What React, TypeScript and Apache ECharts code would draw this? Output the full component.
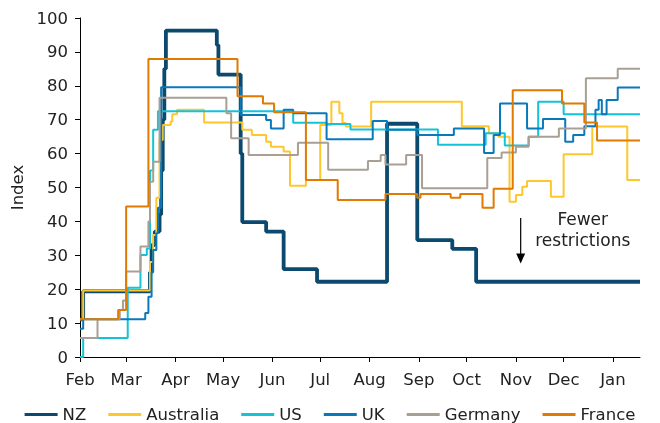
import React, { useEffect, useRef } from "react";
import * as echarts from "echarts";

// ---- Data ----
const monthNames = ["Jan", "Feb", "Mar", "Apr", "May", "Jun", "Jul", "Aug", "Sep", "Oct", "Nov", "Dec"];
const xStart = "2020-02-01";
const xEnd = "2021-01-18";
const yMin = 0;
const yMax = 100;
const yInterval = 10;

const countries = ["NZ", "Australia", "US", "UK", "Germany", "France"];

// each entry: [date from which value holds, index value]
const nz: [string, number][] = [
  ["2020-02-01", 11.1], ["2020-02-03", 19.4], ["2020-03-16", 25], ["2020-03-17", 33],
  ["2020-03-19", 37], ["2020-03-22", 42], ["2020-03-23", 55], ["2020-03-24", 70],
  ["2020-03-25", 85], ["2020-03-26", 96.3], ["2020-04-27", 92], ["2020-04-28", 83.3],
  ["2020-05-12", 60], ["2020-05-13", 39.8], ["2020-05-28", 37], ["2020-06-08", 25.9],
  ["2020-06-29", 22.2], ["2020-08-12", 68.8], ["2020-08-31", 34.5], ["2020-09-22", 31.9],
  ["2020-10-07", 22.2], ["2021-01-18", 22.2],
];
const australia: [string, number][] = [
  ["2020-02-01", 11.1], ["2020-02-03", 19.6], ["2020-03-16", 28], ["2020-03-18", 36],
  ["2020-03-20", 47], ["2020-03-22", 64], ["2020-03-24", 68.4], ["2020-03-29", 69.5],
  ["2020-03-30", 71.6], ["2020-04-02", 72.9], ["2020-04-19", 69.2], ["2020-05-13", 67],
  ["2020-05-19", 65.5], ["2020-05-28", 63.5], ["2020-05-31", 62], ["2020-06-08", 60.6],
  ["2020-06-12", 50.5], ["2020-06-22", 52.2], ["2020-07-01", 68.4], ["2020-07-08", 75.3],
  ["2020-07-13", 71.9], ["2020-07-15", 69], ["2020-07-17", 68], ["2020-08-02", 75.3],
  ["2020-09-28", 68.1], ["2020-10-15", 66], ["2020-10-21", 65], ["2020-10-28", 45.8],
  ["2020-11-01", 47.8], ["2020-11-05", 50.2], ["2020-11-08", 51.9], ["2020-11-23", 47.3],
  ["2020-12-01", 59.8], ["2020-12-19", 68], ["2021-01-10", 52.2], ["2021-01-18", 52.2],
];
const us: [string, number][] = [
  ["2020-02-01", 0], ["2020-02-03", 5.6], ["2020-03-02", 20.4], ["2020-03-10", 30.1],
  ["2020-03-14", 32], ["2020-03-16", 55], ["2020-03-18", 67], ["2020-03-21", 72.5],
  ["2020-06-14", 69.1], ["2020-07-05", 68.7], ["2020-07-20", 67.1], ["2020-09-13", 62.6],
  ["2020-10-13", 66], ["2020-10-25", 62.4], ["2020-11-09", 65], ["2020-11-15", 75.3],
  ["2020-12-01", 71.6], ["2021-01-18", 71.6],
];
const uk: [string, number][] = [
  ["2020-02-01", 8.3], ["2020-02-03", 11.1], ["2020-03-13", 13], ["2020-03-15", 17.8],
  ["2020-03-17", 25], ["2020-03-18", 31.6], ["2020-03-20", 36.5], ["2020-03-21", 44],
  ["2020-03-23", 79.6], ["2020-05-12", 71.4], ["2020-05-28", 69.9], ["2020-05-31", 67.4],
  ["2020-06-08", 72.9], ["2020-06-14", 71.9], ["2020-07-05", 64.2], ["2020-08-03", 69.6],
  ["2020-08-12", 67], ["2020-08-31", 65.5], ["2020-09-23", 67.4], ["2020-10-12", 60.2],
  ["2020-10-18", 65.5], ["2020-10-22", 74.8], ["2020-11-08", 67.4], ["2020-11-18", 70.2],
  ["2020-12-02", 63.5], ["2020-12-07", 65.5], ["2020-12-14", 68.1], ["2020-12-21", 72.9],
  ["2020-12-23", 75.8], ["2020-12-25", 71.6], ["2020-12-28", 75.8], ["2021-01-04", 79.5],
  ["2021-01-18", 79.5],
];
const germany: [string, number][] = [
  ["2020-02-01", 5.6], ["2020-02-12", 11.1], ["2020-02-26", 13.9], ["2020-02-28", 16.7],
  ["2020-03-01", 25.2], ["2020-03-10", 32.6], ["2020-03-15", 40], ["2020-03-16", 51.7],
  ["2020-03-18", 57.6], ["2020-03-22", 76.5], ["2020-05-03", 71.9], ["2020-05-06", 64.5],
  ["2020-05-17", 59.6], ["2020-06-17", 63.2], ["2020-07-06", 55.2], ["2020-07-31", 57.8],
  ["2020-08-08", 59.6], ["2020-08-11", 56.8], ["2020-08-24", 59.6], ["2020-09-03", 49.8],
  ["2020-10-14", 58.7], ["2020-10-23", 60.3], ["2020-11-01", 62], ["2020-11-09", 65],
  ["2020-11-28", 67.4], ["2020-12-15", 82.2], ["2021-01-04", 85], ["2021-01-18", 85],
];
const france: [string, number][] = [
  ["2020-02-01", 11.1], ["2020-02-25", 13.9], ["2020-03-01", 44.4], ["2020-03-15", 87.9],
  ["2020-05-10", 76.9], ["2020-05-26", 74.8], ["2020-06-02", 72.2], ["2020-06-22", 52.2],
  ["2020-07-12", 46.3], ["2020-08-11", 48.1], ["2020-08-31", 47], ["2020-09-02", 48.1],
  ["2020-09-21", 47], ["2020-09-27", 48.1], ["2020-10-11", 44], ["2020-10-18", 49.6],
  ["2020-10-30", 78.7], ["2020-11-30", 74.8], ["2020-12-14", 69.2], ["2020-12-22", 63.9],
  ["2021-01-18", 63.9],
];

const seriesData = [nz, australia, us, uk, germany, france];
const colors = ["#0B4A6E", "#FFC72C", "#12C3D9", "#0A79BA", "#A99F95", "#E07A00"];
const widths = [3.8, 2, 2, 2, 2, 2];

const annotationText = "Fewer\nrestrictions";

const FONT = "DejaVu Sans";

function ts(d: string): number {
  return Date.parse(d + "T00:00:00Z");
}

export default function App() {
  const ref = useRef<HTMLDivElement>(null);

  useEffect(() => {
    if (!ref.current) return;
    const chart = echarts.init(ref.current, null, { renderer: "svg" });

    const monthStarts: number[] = [];
    for (let m = 1; m <= 12; m++) monthStarts.push(Date.UTC(2020, m, 1));

    const option: any = {
      animation: false,
      textStyle: { fontFamily: FONT },
      grid: { left: 80, right: 20, top: 18, bottom: 66, containLabel: false },
      legend: {
        data: countries,
        top: 401,
        left: "center",
        icon: "rect",
        itemWidth: 33,
        itemHeight: 3,
        itemGap: 22,
        textStyle: { fontSize: 16.5, fontFamily: FONT, color: "#222" },
      },
      xAxis: {
        type: "value",
        min: ts(xStart),
        max: ts(xEnd),
        axisLine: { show: true, lineStyle: { color: "#000", width: 1 } },
        axisTick: { show: true, length: 5, lineStyle: { color: "#000" }, customValues: monthStarts },
        axisLabel: {
          customValues: monthStarts,
          formatter: (v: number) => monthNames[new Date(v).getUTCMonth()],
          fontSize: 16.5,
          color: "#222",
          fontFamily: FONT,
          margin: 14,
        },
        splitLine: { show: false },
      },
      yAxis: {
        type: "value",
        min: yMin,
        max: yMax,
        interval: yInterval,
        name: "Index",
        nameLocation: "middle",
        nameGap: 45,
        nameTextStyle: { fontSize: 16.5, color: "#222", fontFamily: FONT },
        axisLine: { show: true, lineStyle: { color: "#000", width: 1 } },
        axisTick: { show: true, length: 5, lineStyle: { color: "#000" } },
        axisLabel: { fontSize: 16.5, color: "#222", fontFamily: FONT, margin: 12 },
        splitLine: { show: false },
      },
      series: countries.map((name, i) => ({
        name,
        type: "line",
        step: "end",
        symbol: "none",
        color: colors[i],
        lineStyle: { color: colors[i], width: widths[i] },
        emphasis: { disabled: true },
        data: seriesData[i].map(([d, v]) => [ts(d), v]),
      })),
    };
    chart.setOption(option);

    const a1 = chart.convertToPixel({ gridIndex: 0 }, [ts("2020-11-04"), 41]) as number[];
    const a2 = chart.convertToPixel({ gridIndex: 0 }, [ts("2020-11-04"), 27.6]) as number[];
    const tp = chart.convertToPixel({ gridIndex: 0 }, [ts("2020-12-13"), 43.8]) as number[];
    chart.setOption({
      graphic: [
        {
          type: "line",
          shape: { x1: a1[0], y1: a1[1], x2: a2[0], y2: a2[1] - 9 },
          style: { stroke: "#000", lineWidth: 1.2 },
        },
        {
          type: "polygon",
          shape: { points: [[a2[0] - 4.5, a2[1] - 10], [a2[0] + 4.5, a2[1] - 10], [a2[0], a2[1]]] },
          style: { fill: "#000" },
        },
        {
          type: "text",
          x: tp[0],
          y: tp[1],
          style: {
            text: annotationText,
            fill: "#222",
            font: `17px "${FONT}"`,
            align: "center",
            verticalAlign: "top",
            lineHeight: 21,
          },
        },
      ],
    });

    return () => chart.dispose();
  }, []);

  return (
    <div
      ref={ref}
      style={{ position: "fixed", left: 0, top: 0, width: 660, height: 423 }}
    />
  );
}
